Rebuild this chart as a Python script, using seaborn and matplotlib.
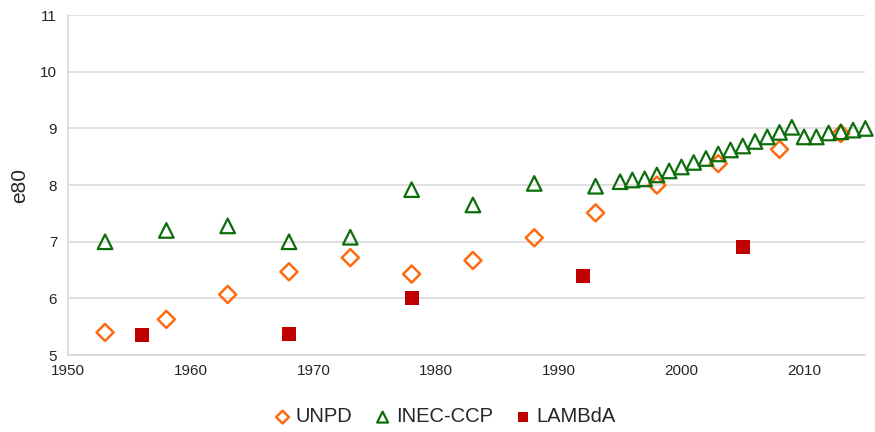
import matplotlib
matplotlib.use("Agg")
import matplotlib.pyplot as plt
import seaborn as sns

# datos
unpd_year = [1953, 1958, 1963, 1968, 1973, 1978, 1983, 1988, 1993, 1998, 2003, 2008, 2013]
unpd_e80 = [5.40, 5.63, 6.07, 6.47, 6.72, 6.43, 6.67, 7.07, 7.51, 8.00, 8.38, 8.63, 8.91]

inec_year = [1953, 1958, 1963, 1968, 1973, 1978, 1983, 1988, 1993,
             1995, 1996, 1997, 1998, 1999, 2000, 2001, 2002, 2003, 2004, 2005,
             2006, 2007, 2008, 2009, 2010, 2011, 2012, 2013, 2014, 2015]
inec_e80 = [7.00, 7.20, 7.28, 7.00, 7.08, 7.92, 7.65, 8.03, 7.98,
            8.06, 8.09, 8.11, 8.18, 8.25, 8.32, 8.40, 8.47, 8.55, 8.62, 8.69,
            8.77, 8.85, 8.93, 9.02, 8.85, 8.85, 8.92, 8.94, 8.97, 9.00]

lambda_year = [1956, 1968, 1978, 1992, 2005]
lambda_e80 = [5.35, 5.37, 6.00, 6.40, 6.90]

sns.set_style("white")
plt.rcParams["font.family"] = ["Liberation Sans", "DejaVu Sans"]

fig, ax = plt.subplots(figsize=(8.75, 4.32), dpi=100)
fig.subplots_adjust(left=0.078, right=0.989, top=0.965, bottom=0.178)

sns.scatterplot(x=unpd_year, y=unpd_e80, marker="D", s=75, facecolor="none",
                edgecolor="#FF6A10", linewidth=1.8, label="UNPD", ax=ax, zorder=3,
                clip_on=False)
sns.scatterplot(x=inec_year, y=inec_e80, marker="^", s=110, facecolor="none",
                edgecolor="#0B6E0B", linewidth=1.6, label="INEC-CCP", ax=ax, zorder=3,
                clip_on=False)
sns.scatterplot(x=lambda_year, y=lambda_e80, marker="s", s=100, color="#C00000",
                edgecolor="#C00000", linewidth=0, label="LAMBdA", ax=ax, zorder=3,
                clip_on=False)

ax.set_xlim(1950, 2015)
ax.set_ylim(5, 11)
ax.set_xticks(range(1950, 2011, 10))
ax.set_yticks(range(5, 12))
ax.grid(axis="y", color="#D9D9D9", linewidth=1.2)
ax.grid(axis="x", visible=False)
for side in ["top", "right"]:
    ax.spines[side].set_visible(False)
for side in ["left", "bottom"]:
    ax.spines[side].set_color("#D9D9D9")
    ax.spines[side].set_linewidth(1.2)
ax.tick_params(axis="x", direction="inout", length=7, color="#D9D9D9", width=1.2,
               labelsize=11, labelcolor="#262626", pad=3)
ax.tick_params(axis="y", length=0, labelsize=11, labelcolor="#262626", pad=8)
ax.set_ylabel("e80", fontsize=15, labelpad=8)
ax.set_xlabel("")

handles, labels = ax.get_legend_handles_labels()
ax.get_legend().remove()
fig.legend(handles, labels, loc="center", bbox_to_anchor=(0.509, 0.035), ncol=3,
           frameon=False, fontsize=14.5, handlelength=0.7, handletextpad=0.3,
           columnspacing=1.15, markerscale=0.75)

plt.savefig("out.png", dpi=100)
